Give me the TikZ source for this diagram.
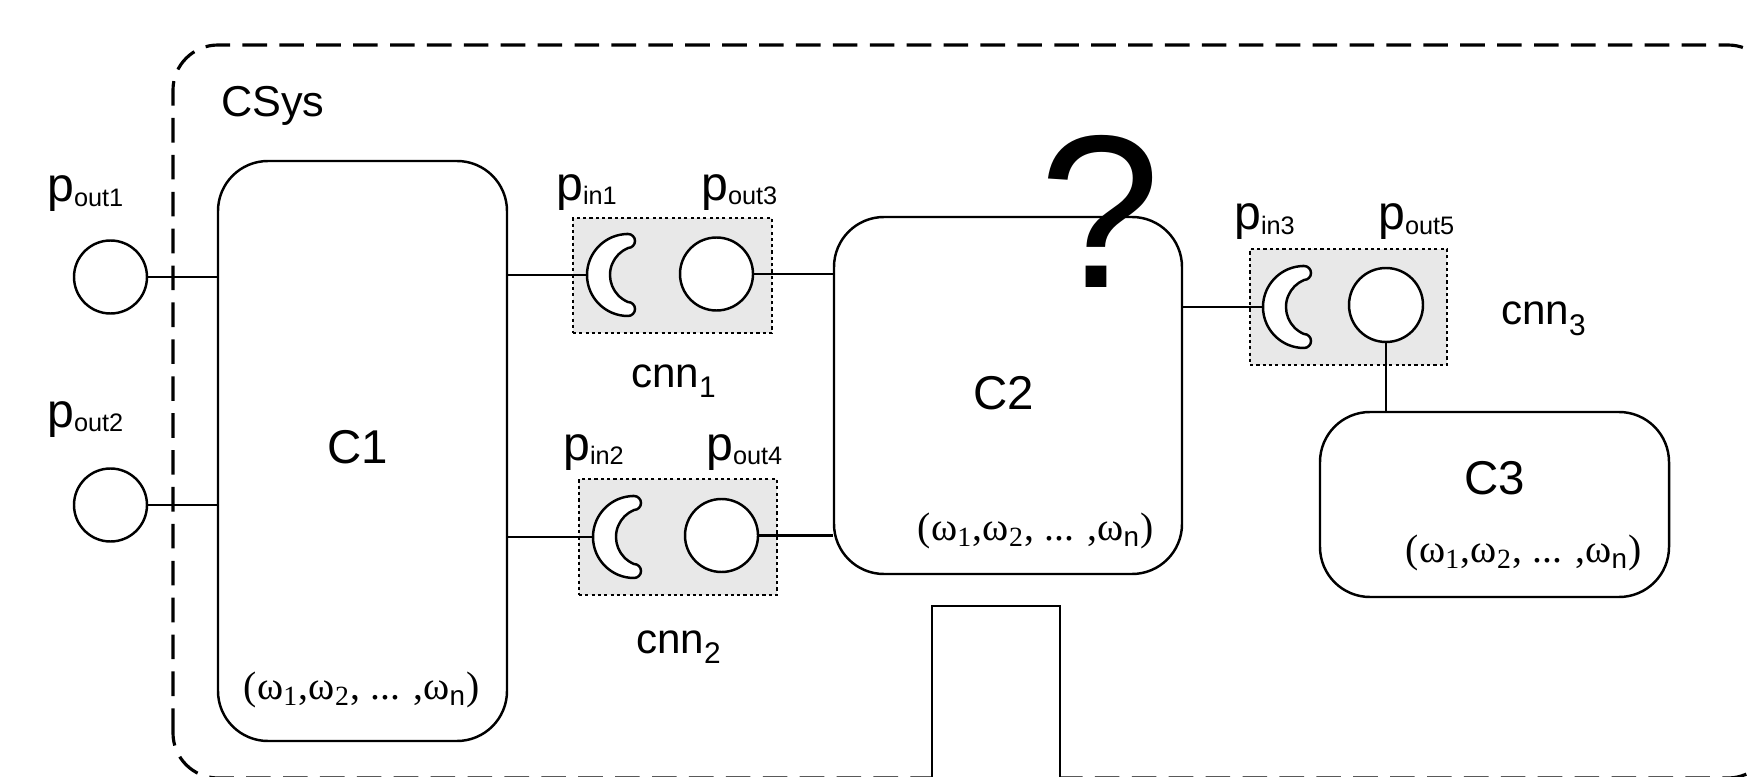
\documentclass[tikz,border=0pt]{standalone}
\usepackage{fontspec}
\setmainfont{Liberation Sans}
\newfontfamily\omegafont{Liberation Serif}
\newcommand{\portlbl}[1]{{\fontsize{13.7}{14}\selectfont p}{\fontsize{7.2}{8}\selectfont\raisebox{-1.3pt}{#1}}}
\newcommand{\cnnlbl}[1]{{\fontsize{12}{14}\selectfont cnn}{\fontsize{8.5}{9}\selectfont\raisebox{-3pt}{#1}}}
\newcommand{\omglbl}{{\omegafont\fontsize{11.3}{13}\selectfont (ω\textsubscript{1},ω\textsubscript{2}, ... ,ω\textsubscript{\normalfont n})}}
\tikzset{
  comp/.style={draw, rounded corners=0.5cm, fill=white, inner sep=0pt},
  port/.style={draw, circle, fill=white, minimum size=0.73cm, inner sep=0pt},
  cnnbox/.style={draw, dash pattern=on 0.9pt off 0.9pt, fill=black!9, inner sep=0pt},
  lbl/.style={inner sep=0pt, anchor=base west},
  ctext/.style={inner sep=0pt, font=\fontsize{13.5}{15}\selectfont},
  socket/.pic={
    \draw[fill=white] (0,0.41) arc[start angle=90,end angle=270,radius=0.41]
      arc[start angle=-90,end angle=90,radius=0.07]
      arc[start angle=247.4,end angle=112.6,radius=0.2925]
      arc[start angle=-90,end angle=90,radius=0.07] -- cycle;
    \coordinate (-tip) at (-0.41,0);
  }
}
\begin{document}
\begin{tikzpicture}[line width=0.7pt]
\path[use as bounding box, clip] (0,0) rectangle (17.49,7.76);
% system boundary
\draw[dash pattern=on 7pt off 3.5pt, line width=0.9pt, rounded corners=0.45cm] (1.73,-0.02) rectangle (17.73,7.31);
\node[lbl, font=\fontsize{12.3}{14}\selectfont] (csys) at (2.20,6.59) {CSys};

% components
\node[comp, minimum width=2.89cm, minimum height=5.80cm] (c1) at (3.625,3.25) {};
\node[comp, minimum width=3.48cm, minimum height=3.57cm] (c2) at (10.08,3.805) {};
\node[comp, minimum width=3.49cm, minimum height=1.85cm] (c3) at (14.945,2.715) {};
\node[ctext] (c1t) at (3.58,3.29) {C1};
\node[ctext] (c2t) at (10.04,3.83) {C2};
\node[ctext] (c3t) at (14.95,2.98) {C3};
\node[inner sep=0pt] (w1) at (3.62,0.86) {\omglbl};
\node[inner sep=0pt] (w2) at (10.36,2.45) {\omglbl};
\node[inner sep=0pt] (w3) at (15.24,2.23) {\omglbl};

% outer ports
\node[port] (po1) at (1.105,4.99) {};
\node[port] (po2) at (1.105,2.71) {};
\node[lbl] (po1t) at (0.46,5.74) {\portlbl{out1}};
\node[lbl] (po2t) at (0.46,3.49) {\portlbl{out2}};

% connectors
\node[cnnbox, minimum width=1.99cm, minimum height=1.15cm] (k1) at (6.725,5.005) {};
\node[cnnbox, minimum width=1.98cm, minimum height=1.16cm] (k2) at (6.78,2.39) {};
\node[cnnbox, minimum width=1.97cm, minimum height=1.16cm] (k3) at (13.485,4.69) {};
\pic (s1) at (6.28,5.01) {socket};
\pic (s2) at (6.34,2.39) {socket};
\pic (s3) at (13.04,4.69) {socket};
\node[port] (po3) at (7.165,5.02) {};
\node[port] (po4) at (7.215,2.405) {};
\node[port, minimum size=0.74cm] (po5) at (13.86,4.71) {};
\node[lbl] (pi1t) at (5.55,5.76) {\portlbl{in1}};
\node[lbl] (po3t) at (7.00,5.76) {\portlbl{out3}};
\node[lbl] (pi2t) at (5.62,3.16) {\portlbl{in2}};
\node[lbl] (po4t) at (7.05,3.16) {\portlbl{out4}};
\node[lbl] (pi3t) at (12.33,5.46) {\portlbl{in3}};
\node[lbl] (po5t) at (13.77,5.46) {\portlbl{out5}};
\node[lbl] (k1t) at (6.30,3.89) {\cnnlbl{1}};
\node[lbl] (k2t) at (6.35,1.23) {\cnnlbl{2}};
\node[lbl] (k3t) at (15.00,4.51) {\cnnlbl{3}};

% links
\draw (po1) -- (po1 -| c1.west);
\draw (po2) -- (po2 -| c1.west);
\draw (c1.east |- s1-tip) -- (s1-tip);
\draw (c1.east |- s2-tip) -- (s2-tip);
\draw (po3) -- (po3 -| c2.west);
\draw (po4) -- (po4 -| c2.west);
\draw (c2.east |- s3-tip) -- (s3-tip);
\draw (po5) -- (po5 |- c3.north);

\node[inner sep=0pt, anchor=base, font=\fontsize{62}{62}\selectfont] (qm) at (11.00,4.88) {?};
\node[draw, line width=0.6pt, fill=white, minimum width=1.28cm, minimum height=2cm, anchor=north, inner sep=0pt] (blank) at (9.96,1.71) {};
\end{tikzpicture}
\end{document}
